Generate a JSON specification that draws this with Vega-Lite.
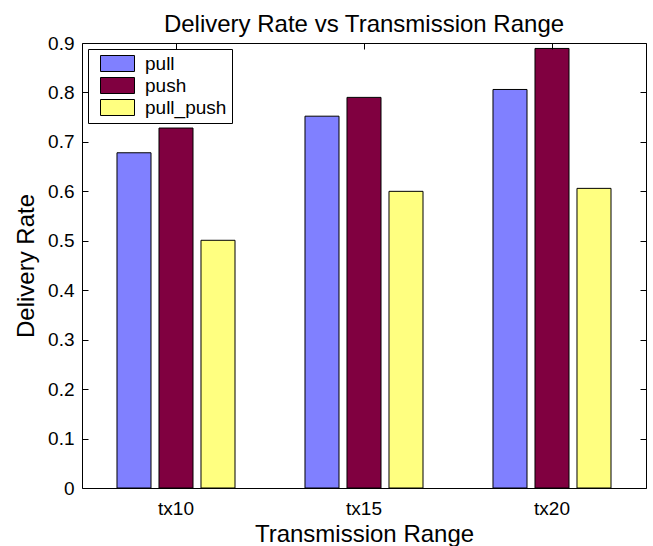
{
  "$schema": "https://vega.github.io/schema/vega-lite/v6.json",
  "width": 564,
  "height": 445,
  "autosize": {"type": "none"},
  "padding": {"left": 82, "top": 43, "right": 7, "bottom": 58},
  "background": "white",
  "title": {
    "text": "Delivery Rate vs Transmission Range",
    "fontSize": 24,
    "font": "Liberation Sans",
    "fontWeight": "normal",
    "color": "black",
    "anchor": "middle",
    "baseline": "bottom",
    "offset": -27
  },
  "data": {
    "values": [
      {"range": "tx10", "protocol": "pull", "rate": 0.678},
      {"range": "tx10", "protocol": "push", "rate": 0.728},
      {"range": "tx10", "protocol": "pull_push", "rate": 0.501},
      {"range": "tx15", "protocol": "pull", "rate": 0.752},
      {"range": "tx15", "protocol": "push", "rate": 0.79},
      {"range": "tx15", "protocol": "pull_push", "rate": 0.6},
      {"range": "tx20", "protocol": "pull", "rate": 0.806},
      {"range": "tx20", "protocol": "push", "rate": 0.889},
      {"range": "tx20", "protocol": "pull_push", "rate": 0.606}
    ]
  },
  "layer": [
    {
      "mark": {"type": "bar", "stroke": "black", "strokeWidth": 1},
      "encoding": {
        "x": {
          "field": "range",
          "type": "nominal",
          "sort": ["tx10", "tx15", "tx20"],
          "scale": {"paddingInner": 0, "paddingOuter": 0},
          "axis": {
            "title": "Transmission Range",
            "labelAngle": 0,
            "domain": false,
            "tickSize": -6,
            "labelBaseline": "alphabetic",
            "labelPadding": 32,
            "titleBaseline": "alphabetic",
            "titleY": 53,
            "titleX": 282
          }
        },
        "xOffset": {
          "field": "protocol",
          "type": "nominal",
          "sort": ["pull", "push", "pull_push"],
          "scale": {"paddingInner": 0.19, "paddingOuter": 0.833}
        },
        "y": {
          "field": "rate",
          "type": "quantitative",
          "scale": {"domain": [0, 0.9], "nice": false},
          "axis": {
            "title": "Delivery Rate",
            "values": [0, 0.1, 0.2, 0.3, 0.4, 0.5, 0.6, 0.7, 0.8, 0.9],
            "format": ".1~f",
            "tickSize": -6,
            "labelPadding": 14,
            "domain": false,
            "titleBaseline": "alphabetic",
            "titleX": -49,
            "titleY": 222.5
          }
        },
        "color": {
          "field": "protocol",
          "type": "nominal",
          "sort": ["pull", "push", "pull_push"],
          "scale": {"domain": ["pull", "push", "pull_push"], "range": ["#8080ff", "#800040", "#ffff80"]},
          "legend": {
            "title": null,
            "orient": "top-left",
            "offset": 6,
            "padding": 5,
            "fillColor": "white",
            "strokeColor": "black",
            "symbolType": "M-2.125,-1H2.125V1H-2.125Z",
            "symbolSize": 256,
            "symbolStrokeColor": "black",
            "symbolStrokeWidth": 1,
            "symbolOpacity": 1,
            "symbolOffset": 15,
            "labelOffset": 18,
            "labelFont": "Liberation Sans",
            "labelFontSize": 19,
            "labelColor": "black",
            "rowPadding": 1
          }
        }
      }
    },
    {
      "mark": {"type": "bar", "opacity": 0},
      "encoding": {
        "x": {
          "field": "range",
          "type": "nominal",
          "sort": ["tx10", "tx15", "tx20"],
          "axis": {"orient": "top", "labels": false, "title": null, "domain": false, "tickSize": -6, "zindex": 1}
        },
        "y": {
          "field": "rate",
          "type": "quantitative",
          "stack": null,
          "scale": {"domain": [0, 0.9], "nice": false},
          "axis": {
            "orient": "right",
            "labels": false,
            "title": null,
            "domain": false,
            "tickSize": -6,
            "values": [0, 0.1, 0.2, 0.3, 0.4, 0.5, 0.6, 0.7, 0.8, 0.9]
          }
        }
      }
    }
  ],
  "resolve": {"axis": {"x": "independent", "y": "independent"}},
  "config": {
    "view": {"stroke": "black", "strokeWidth": 1},
    "axis": {
      "labelFont": "Liberation Sans",
      "titleFont": "Liberation Sans",
      "labelFontSize": 19,
      "titleFontSize": 24,
      "labelColor": "black",
      "titleColor": "black",
      "tickColor": "black",
      "titleFontWeight": "normal",
      "grid": false
    },
    "legend": {"strokeWidth": 1, "cornerRadius": 0}
  }
}
